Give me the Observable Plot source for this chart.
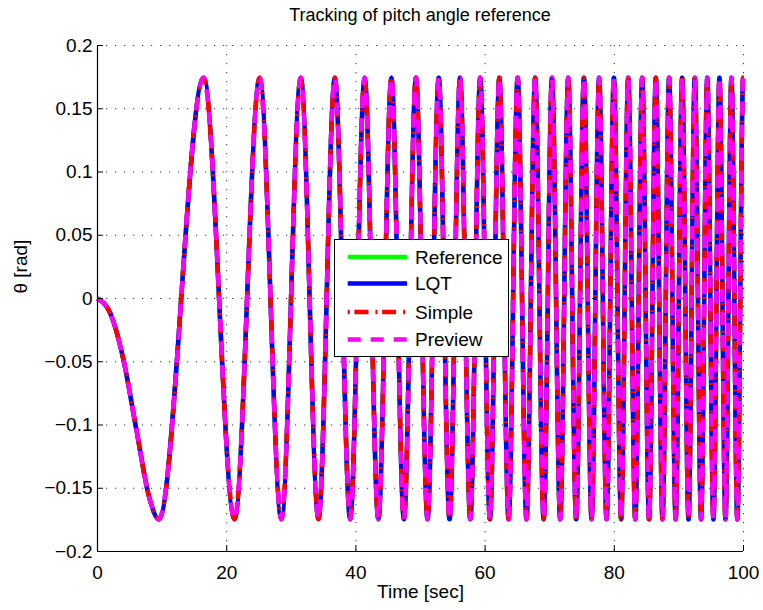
<!DOCTYPE html>
<html>
<head>
<meta charset="utf-8">
<script src="https://cdn.jsdelivr.net/npm/d3@7"></script>
<script src="https://cdn.jsdelivr.net/npm/@observablehq/plot@0.6"></script>
<style>
  html, body { margin: 0; padding: 0; background: #fff; }
  #fig { position: relative; width: 763px; height: 610px; font-family: "Liberation Sans", Arial, sans-serif; }
  #title { width: 646px; margin-left: 97px; height: 30px; line-height: 30px; text-align: center; font-size: 18px; color: #000; }
  #legend { position: absolute; left: 334px; top: 239px; width: 173px; height: 116px; background: #fff; border: 1.3px solid #000; }
  #legend svg { display: block; }
</style>
</head>
<body>
<div id="fig">
  <div id="title">Tracking of pitch angle reference</div>
  <div id="chart"></div>
  <div id="legend"></div>
</div>
<script>
// ---- data ----
const seriesNames = ["Reference", "LQT", "Simple", "Preview"];
const seriesColors = ["#00ff00", "#0000ff", "#ff0000", "#ff00ff"];
const seriesDash = [null, null, "2,4.7,14,7", "13,10"];

// first half-swing (slow start)
const startTime  = [0, 2, 4, 6, 8];
const startValue = [0, -0.012, -0.048, -0.103, -0.157];

// times of the successive troughs / peaks (seconds)
const extremaTime = [
  9.487, 16.432, 21.213, 25.100, 28.460, 31.464, 34.205, 36.742, 39.115, 41.352,
  43.474, 45.497, 47.434, 49.295, 51.088, 52.820, 54.498, 56.125, 57.706, 59.245,
  60.745, 62.209, 63.640, 65.038, 66.408, 67.750, 69.065, 70.356, 71.624, 72.870,
  74.095, 75.299, 76.485, 77.653, 78.804, 79.937, 81.056, 82.158, 83.247, 84.321,
  85.381, 86.429, 87.464, 88.487, 89.499, 90.499, 91.488, 92.466, 93.434, 94.393,
  95.341, 96.281, 97.211, 98.133, 99.045, 99.950
];
// values at those troughs / peaks (rad)
const extremaValue = [
  -0.1745, 0.1745, -0.1745, 0.1745, -0.1745, 0.1745, -0.1745, 0.1745, -0.1745, 0.1745,
  -0.1745, 0.1745, -0.1745, 0.1745, -0.1745, 0.1745, -0.1745, 0.1745, -0.1745, 0.1745,
  -0.1745, 0.1745, -0.1745, 0.1745, -0.1745, 0.1745, -0.1745, 0.1745, -0.1745, 0.1745,
  -0.1745, 0.1745, -0.1745, 0.1745, -0.1745, 0.1745, -0.1745, 0.1745, -0.1745, 0.1745,
  -0.1745, 0.1745, -0.1745, 0.1745, -0.1745, 0.1745, -0.1745, 0.1745, -0.1745, 0.1745,
  -0.1745, 0.1745, -0.1745, 0.1745, -0.1745, 0.1745
];
const endTime = [100];
const endValue = [0.1745];

const xDomain = [0, 100];
const yDomain = [-0.2, 0.2];
const xTicks = [0, 20, 40, 60, 80, 100];
const xTickLabels = ["0", "20", "40", "60", "80", "100"];
const yTicks = [-0.2, -0.15, -0.1, -0.05, 0, 0.05, 0.1, 0.15, 0.2];
const yTickLabels = ["\u22120.2", "\u22120.15", "\u22120.1", "\u22120.05", "0", "0.05", "0.1", "0.15", "0.2"];

// ---- build table ----
const times = [...startTime, ...extremaTime, ...endTime];
const values = [...startValue, ...extremaValue, ...endValue];
const rows = [];
seriesNames.forEach((s) => {
  times.forEach((t, i) => rows.push({ series: s, t, v: values[i] }));
});

const W = 763, H = 580;
const mL = 97, mR = 20, mT = 15, mB = 59;
const frameW = W - mL - mR, frameH = H - mT - mB;

const lineMarks = seriesNames.map((s, k) =>
  Plot.line(rows.filter((r) => r.series === s), {
    x: "t", y: "v",
    stroke: seriesColors[k],
    strokeWidth: 4.5,
    strokeDasharray: seriesDash[k] || undefined,
    strokeLinecap: "butt",
    strokeLinejoin: "round",
    curve: "monotone-x"
  })
);

const chart = Plot.plot({
  width: W, height: H,
  marginLeft: mL, marginRight: mR, marginTop: mT, marginBottom: mB,
  style: { fontFamily: "Liberation Sans, Arial, sans-serif", fontSize: "19px", color: "#000", background: "#fff" },
  x: { domain: xDomain, axis: null },
  y: { domain: yDomain, axis: null },
  marks: [
    Plot.gridX(xTicks, { stroke: "#000", strokeOpacity: 0.8, strokeWidth: 1, strokeDasharray: "1.2,7.8" }),
    Plot.gridY(yTicks, { stroke: "#000", strokeOpacity: 0.8, strokeWidth: 1, strokeDasharray: "1.2,7.8" }),
    ...lineMarks,
    Plot.ruleY([yDomain[0]], { stroke: "#000", strokeWidth: 1.2 }),
    Plot.ruleX([xDomain[0]], { stroke: "#000", strokeWidth: 1.2 }),
    Plot.tickX(xTicks, { x: (d) => d, stroke: "#000", strokeWidth: 1, insetTop: frameH - 6 }),
    Plot.tickY(yTicks, { y: (d) => d, stroke: "#000", strokeWidth: 1, insetRight: frameW - 6 }),
    Plot.axisX(xTicks, { tickSize: 0, tickPadding: 14, tickFormat: (d) => xTickLabels[xTicks.indexOf(d)], label: null, fontSize: 19 }),
    Plot.axisY(yTicks, { tickSize: 0, tickPadding: 5, tickFormat: (d) => yTickLabels[yTicks.indexOf(d)], label: null, fontSize: 19 }),
    Plot.text(["Time [sec]"], { frameAnchor: "bottom", dy: 46, fontSize: 19, text: (d) => d }),
    Plot.text(["\u03b8 [rad]"], { frameAnchor: "left", dx: -77, dy: -5, rotate: -90, fontSize: 19, text: (d) => d })
  ]
});
document.getElementById("chart").appendChild(chart);

// ---- legend ----
const lg = d3.select("#legend").append("svg").attr("width", 173).attr("height", 116);
const rowY = [17, 43.5, 72, 99.5];
seriesNames.forEach((s, k) => {
  lg.append("line")
    .attr("x1", 12.7).attr("x2", 72).attr("y1", rowY[k]).attr("y2", rowY[k])
    .attr("stroke", seriesColors[k]).attr("stroke-width", 4.5)
    .attr("stroke-dasharray", seriesDash[k]).attr("stroke-linecap", "butt");
  lg.append("text")
    .attr("x", 80).attr("y", rowY[k]).attr("dy", "0.35em")
    .attr("font-family", "Liberation Sans, Arial, sans-serif").attr("font-size", 19)
    .text(s);
});
</script>
</body>
</html>
